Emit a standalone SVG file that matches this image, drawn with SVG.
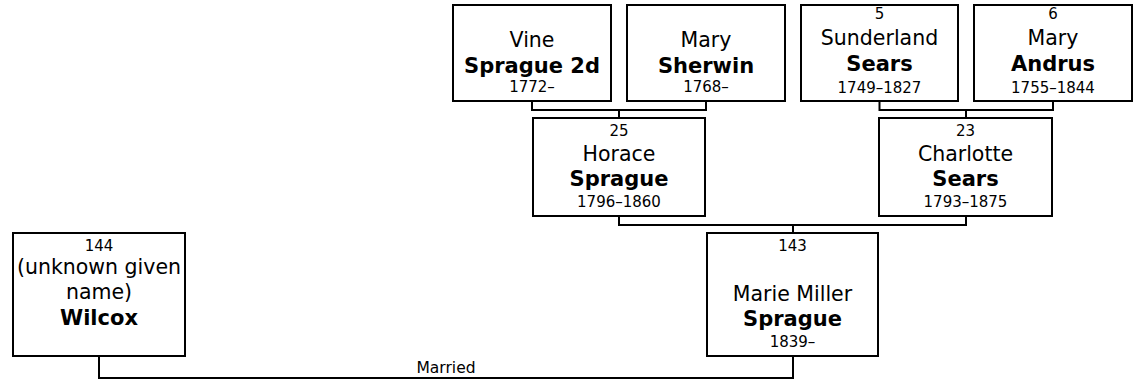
<svg xmlns="http://www.w3.org/2000/svg" width="1137" height="381" viewBox="0 0 1137 381">
<style>
  .box { fill: #ffffff; stroke: #000000; stroke-width: 2; }
  .conn { fill: none; stroke: #000000; stroke-width: 2; }
  text { font-family: "DejaVu Sans", Verdana, sans-serif; fill: #000000; text-anchor: middle; }
  .num { font-size: 15px; }
  .given { font-size: 20.5px; }
  .sur { font-size: 21px; font-weight: bold; }
  .date { font-size: 15px; }
  .label { font-size: 15.5px; }
</style>
<rect x="0" y="0" width="1137" height="381" fill="#ffffff"/>
<g id="connectors">
  <path class="conn" d="M532,102 V110 H706 V102 M619,110 V117"/>
  <path class="conn" d="M879.5,102 V110 H1053 V102 M966,110 V117"/>
  <path class="conn" d="M619,217 V225 H966 V217 M793,225 V232"/>
  <path class="conn" d="M99,357 V378 H793 V357"/>
  <text class="label" x="446" y="373">Married</text>
</g>
<g id="vine-sprague">
  <rect class="box" x="453" y="5" width="158" height="96"/>
  <text class="given" x="532" y="46.5">Vine</text>
  <text class="sur" x="532" y="72.5">Sprague 2d</text>
  <text class="date" x="532" y="92">1772–</text>
</g>
<g id="mary-sherwin">
  <rect class="box" x="627" y="5" width="158" height="96"/>
  <text class="given" x="706" y="46.5">Mary</text>
  <text class="sur" x="706" y="72.5">Sherwin</text>
  <text class="date" x="706" y="92">1768–</text>
</g>
<g id="sunderland-sears">
  <rect class="box" x="801" y="5" width="157" height="96"/>
  <text class="num" x="879.5" y="19">5</text>
  <text class="given" x="879.5" y="45">Sunderland</text>
  <text class="sur" x="879.5" y="71">Sears</text>
  <text class="date" x="879.5" y="92.5">1749–1827</text>
</g>
<g id="mary-andrus">
  <rect class="box" x="974" y="5" width="158" height="96"/>
  <text class="num" x="1053" y="19">6</text>
  <text class="given" x="1053" y="45">Mary</text>
  <text class="sur" x="1053" y="71">Andrus</text>
  <text class="date" x="1053" y="92.5">1755–1844</text>
</g>
<g id="horace-sprague">
  <rect class="box" x="533" y="118" width="172" height="98"/>
  <text class="num" x="619" y="136">25</text>
  <text class="given" x="619" y="160.5">Horace</text>
  <text class="sur" x="619" y="186">Sprague</text>
  <text class="date" x="619" y="206.5">1796–1860</text>
</g>
<g id="charlotte-sears">
  <rect class="box" x="879" y="118" width="173" height="98"/>
  <text class="num" x="965.5" y="136">23</text>
  <text class="given" x="965.5" y="160.5">Charlotte</text>
  <text class="sur" x="965.5" y="186">Sears</text>
  <text class="date" x="965.5" y="206.5">1793–1875</text>
</g>
<g id="marie-miller-sprague">
  <rect class="box" x="707" y="233" width="171" height="123"/>
  <text class="num" x="792.5" y="250.5">143</text>
  <text class="given" x="792.5" y="300.5">Marie Miller</text>
  <text class="sur" x="792.5" y="326">Sprague</text>
  <text class="date" x="792.5" y="346.5">1839–</text>
</g>
<g id="wilcox">
  <rect class="box" x="13" y="233" width="172" height="123"/>
  <text class="num" x="99" y="250.5">144</text>
  <text class="given" x="99" y="274">(unknown given</text>
  <text class="given" x="99" y="299">name)</text>
  <text class="sur" x="99" y="325">Wilcox</text>
</g>
</svg>
